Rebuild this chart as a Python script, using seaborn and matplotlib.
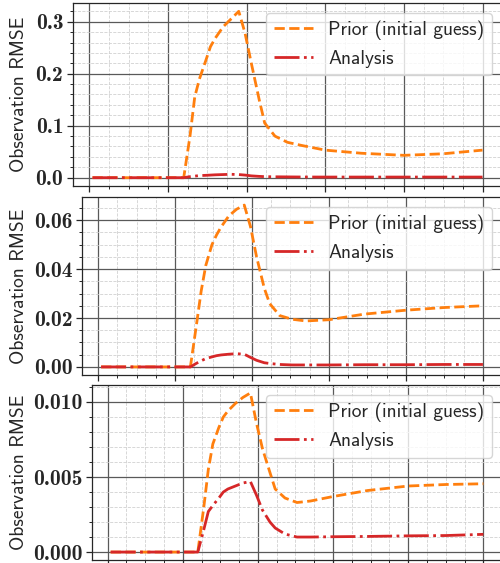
import numpy as np
import pandas as pd
import matplotlib
matplotlib.use("Agg")
import matplotlib.pyplot as plt
import seaborn as sns
from matplotlib.ticker import AutoMinorLocator, MultipleLocator

# time axis (shared by the three panels)
time = [0.08, 2.4, 2.56, 2.68, 2.8, 2.96, 3.08, 3.2, 3.4, 3.6, 3.8, 3.96,
        4.12, 4.32, 4.46, 4.72, 5.04, 5.4, 6.0, 6.92, 8.0, 9.0, 10.0]

prior1 = [0, 0, 0.08, 0.155, 0.19, 0.225, 0.252, 0.268, 0.29, 0.305, 0.32, 0.278,
          0.22, 0.15, 0.105, 0.08, 0.068, 0.062, 0.053, 0.047, 0.043, 0.046, 0.053]
analysis1 = [0, 0, 0.002, 0.003, 0.004, 0.0045, 0.005, 0.0055, 0.006, 0.0065, 0.006, 0.005,
             0.0035, 0.0025, 0.002, 0.0017, 0.0015, 0.0013, 0.0012, 0.0012, 0.0012, 0.0012, 0.0012]

prior2 = [0, 0, 0.0175, 0.031, 0.0415, 0.05, 0.054, 0.0573, 0.0618, 0.0645, 0.0662, 0.0575,
          0.045, 0.0322, 0.0259, 0.021, 0.0195, 0.0188, 0.0193, 0.0216, 0.0232, 0.0243, 0.025]
analysis2 = [0, 0, 0.0015, 0.0025, 0.0034, 0.0041, 0.0046, 0.0049, 0.0052, 0.0054, 0.0052, 0.0039,
             0.0027, 0.0017, 0.0014, 0.001, 0.0008, 0.0008, 0.0008, 0.0009, 0.0009, 0.001, 0.001]

prior3 = [0, 0, 0.003, 0.0055, 0.0072, 0.0083, 0.009, 0.0094, 0.0099, 0.0103, 0.0106, 0.0086,
          0.0069, 0.0053, 0.0042, 0.0036, 0.0033, 0.0034, 0.0037, 0.0041, 0.0044, 0.0045, 0.00455]
analysis3 = [0, 0, 0.0015, 0.0027, 0.0031, 0.0036, 0.004, 0.0042, 0.0044, 0.0046, 0.0047, 0.0038,
             0.0028, 0.002, 0.0016, 0.0012, 0.001, 0.001, 0.00102, 0.00104, 0.00108, 0.0011, 0.00118]

labels = ["Prior (initial guess)", "Analysis"]
ylabel = "Observation RMSE"
ystep = [0.1, 0.02, 0.005]

sns.set_style("ticks")
plt.rcParams["axes.unicode_minus"] = False

fig = plt.figure(figsize=(5, 5.63), dpi=100)

# axes rectangles in pixels: left, top, bottom (right edge runs off the picture)
boxes = [(73, 3, 186), (82, 197, 375), (92, 385, 560)]
W, H = 500, 563

panels = [(prior1, analysis1), (prior2, analysis2), (prior3, analysis3)]

for (l, t, b), (pr, an), step in zip(boxes, panels, ystep):
    ax = fig.add_axes([l / W, (H - b) / H, (502 - l) / W, (b - t) / H])
    df = pd.DataFrame({"t": time, "prior": pr, "analysis": an})
    sns.lineplot(data=df, x="t", y="prior", ax=ax, color="#ff7f0e", lw=2,
                 linestyle="--", label=labels[0])
    sns.lineplot(data=df, x="t", y="analysis", ax=ax, color="#d62728", lw=2,
                 linestyle=(0, (9, 1.6, 1, 1.6)), label=labels[1])

    ax.yaxis.set_major_locator(MultipleLocator(step))
    ax.xaxis.set_minor_locator(AutoMinorLocator())
    ax.yaxis.set_minor_locator(AutoMinorLocator())
    ax.grid(which="major", color="0.35", lw=0.9)
    ax.grid(which="minor", color="0.82", ls="--", lw=0.6)
    ax.set_axisbelow(True)
    ax.tick_params(which="major", direction="out", length=4, width=0.9, pad=3,
                   labelbottom=False, labelsize=15.5, labelfontfamily="cmb10")
    ax.tick_params(which="minor", direction="out", length=2, width=0.7)
    for s in ax.spines.values():
        s.set_color("0.15")
        s.set_linewidth(0.9)

    ax.set_xlabel("")
    ax.set_ylabel(ylabel, fontfamily="cmss10", fontsize=14)
    ax.yaxis.set_label_coords((28 - l) / (502 - l), 0.5)

    ax.legend(loc="upper right", prop={"family": "cmss10", "size": 14},
              handlelength=2.0, framealpha=0.8)

fig.savefig("out.png", dpi=100)
